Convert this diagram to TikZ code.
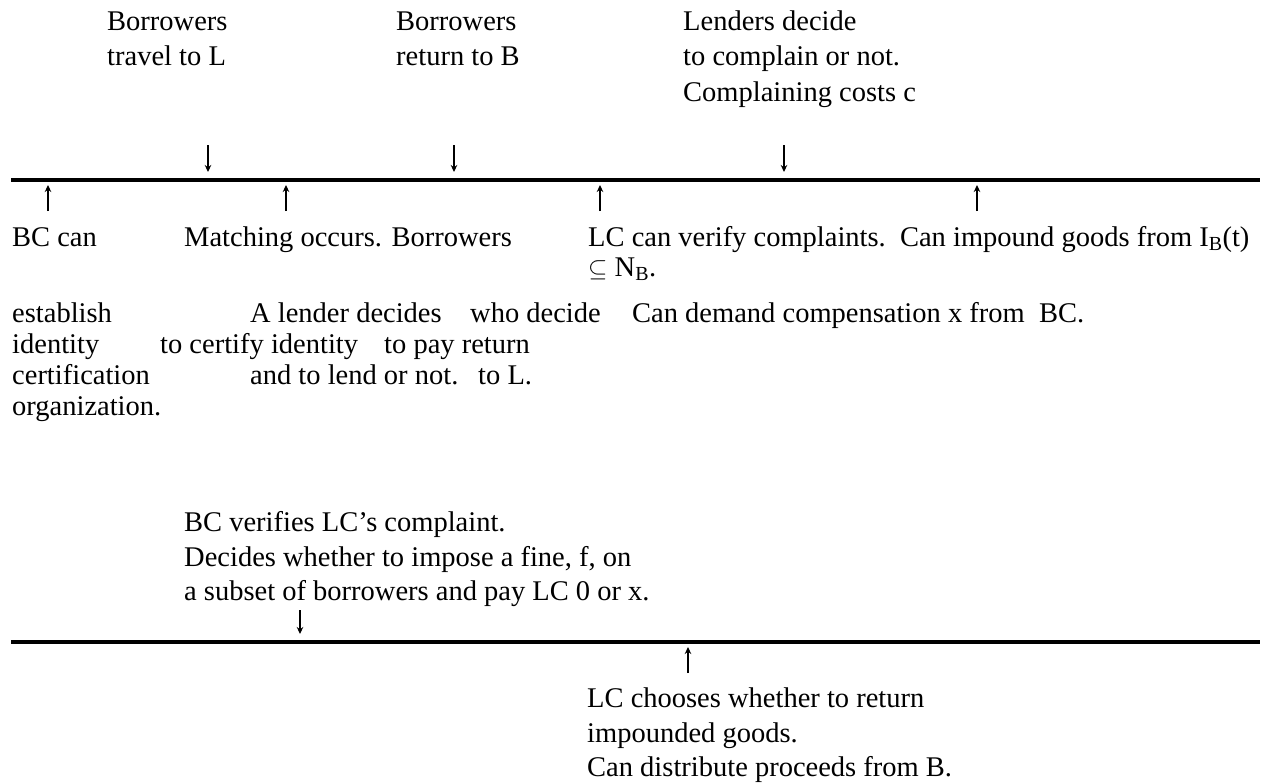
\documentclass[tikz,border=0pt]{standalone}
\usepackage{fontspec}
\setmainfont{Liberation Serif}
\usetikzlibrary{arrows.meta}
\begin{document}
\begin{tikzpicture}[x=1pt,y=-1pt,
  lbl/.style={anchor=base west, inner sep=0pt, font=\fontsize{28.5}{35}\selectfont},
  tline/.style={line width=4pt},
  evt/.style={line width=1.5pt, -{Stealth[length=7pt,width=6.5pt]}}]
\useasboundingbox (0,0) rectangle (1267,784);
% top events
\node[lbl] (t1a) at (107,31) {Borrowers};
\node[lbl] (t1b) at (107,66) {travel to L};
\node[lbl] (t2a) at (396,31) {Borrowers};
\node[lbl] (t2b) at (396,66) {return to B};
\node[lbl] (t3a) at (683,31) {Lenders decide};
\node[lbl] (t3b) at (683,66) {to complain or not.};
\node[lbl] (t3c) at (683,101) {Complaining costs c};
% first timeline
\coordinate (L1s) at (11,180);
\coordinate (L1e) at (1260,180);
\draw[tline] (L1s) -- (L1e);
\coordinate (d1s) at (208,145); \coordinate (d1e) at (208,172);
\coordinate (d2s) at (454,145); \coordinate (d2e) at (454,172);
\coordinate (d3s) at (784,145); \coordinate (d3e) at (784,172);
\draw[evt] (d1s) -- (d1e);
\draw[evt] (d2s) -- (d2e);
\draw[evt] (d3s) -- (d3e);
\coordinate (u1s) at (48,211);  \coordinate (u1e) at (48,185);
\coordinate (u2s) at (286,211); \coordinate (u2e) at (286,185);
\coordinate (u3s) at (600,211); \coordinate (u3e) at (600,185);
\coordinate (u4s) at (977,211); \coordinate (u4e) at (977,185);
\draw[evt] (u1s) -- (u1e);
\draw[evt] (u2s) -- (u2e);
\draw[evt] (u3s) -- (u3e);
\draw[evt] (u4s) -- (u4e);
% texts under the first timeline
\node[lbl] (b1a) at (12,246) {BC can};
\node[lbl] (b1b) at (12,322) {establish};
\node[lbl] (b1c) at (12,353) {identity};
\node[lbl] (b1d) at (12,384) {certification};
\node[lbl] (b1e) at (12,415) {organization.};
\node[lbl] (b2a) at (184,246) {Matching occurs. Borrowers};
\node[lbl] (b2b) at (250,322) {A lender decides};
\node[lbl] (b2c) at (160,353) {to certify identity};
\node[lbl] (b2d) at (250,384) {and to lend or not.};
\node[lbl] (b3a) at (470,322) {who decide};
\node[lbl] (b3b) at (384,353) {to pay return};
\node[lbl] (b3c) at (478,384) {to L.};
\node[lbl] (b4a) at (588,246) {LC can verify complaints.\ \ Can impound goods from I\textsubscript{B}(t)};
\node[lbl] (b4b) at (588,276) {$\subseteq$ N\textsubscript{B}.};
\node[lbl] (b4c) at (632,322) {Can demand compensation x from\ \ BC.};
% second timeline
\node[lbl] (c1a) at (184,531) {BC verifies LC’s complaint.};
\node[lbl] (c1b) at (184,566) {Decides whether to impose a fine, f, on};
\node[lbl] (c1c) at (184,600) {a subset of borrowers and pay LC 0 or x.};
\coordinate (L2s) at (11,642);
\coordinate (L2e) at (1260,642);
\draw[tline] (L2s) -- (L2e);
\coordinate (d4s) at (300,610); \coordinate (d4e) at (300,634);
\draw[evt] (d4s) -- (d4e);
\coordinate (u5s) at (688,673); \coordinate (u5e) at (688,647);
\draw[evt] (u5s) -- (u5e);
\node[lbl] (e1a) at (587,707) {LC chooses whether to return};
\node[lbl] (e1b) at (587,742) {impounded goods.};
\node[lbl] (e1c) at (587,776) {Can distribute proceeds from B.};
\end{tikzpicture}
\end{document}
